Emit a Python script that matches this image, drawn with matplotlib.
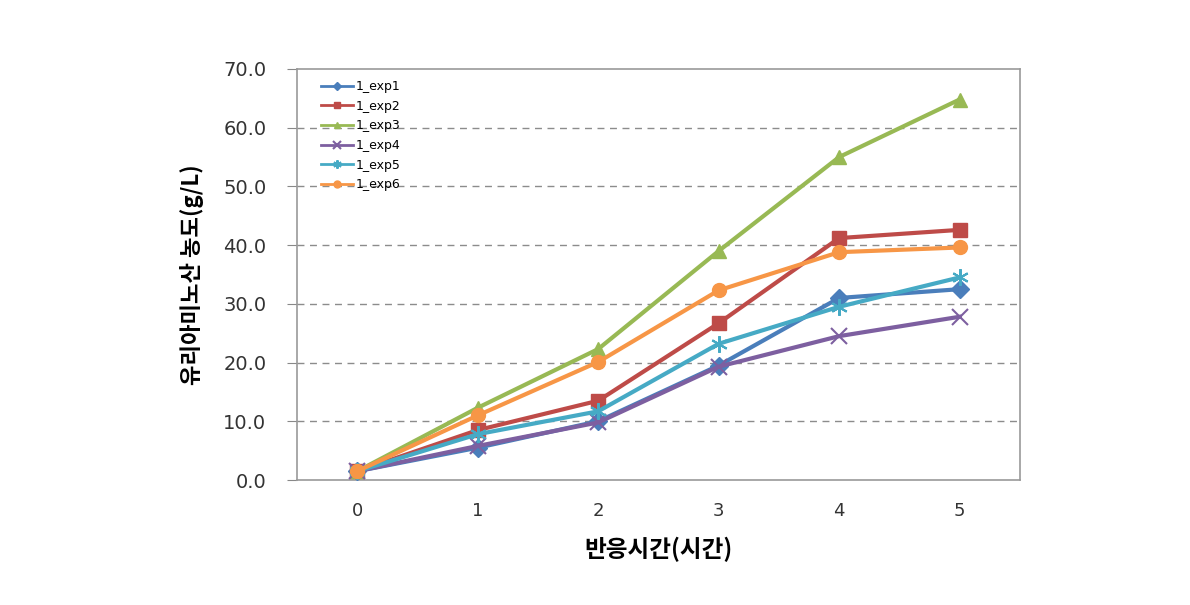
import matplotlib
matplotlib.use("Agg")
import matplotlib.pyplot as plt

plt.rcParams['font.family'] = ['Noto Sans CJK KR', 'DejaVu Sans']

hours = [0, 1, 2, 3, 4, 5]
series_names = ["1_exp1", "1_exp2", "1_exp3", "1_exp4", "1_exp5", "1_exp6"]
exp1 = [1.5, 5.5, 10.0, 19.5, 31.0, 32.5]
exp2 = [1.5, 8.5, 13.5, 26.7, 41.2, 42.6]
exp3 = [1.5, 12.3, 22.3, 39.0, 55.0, 64.8]
exp4 = [1.5, 5.8, 9.8, 19.3, 24.5, 27.8]
exp5 = [1.5, 7.8, 11.7, 23.2, 29.5, 34.5]
exp6 = [1.5, 11.0, 20.1, 32.3, 38.8, 39.6]
y_ticks = [0, 10, 20, 30, 40, 50, 60, 70]

colors = ["#4A7EBB", "#BE4B48", "#98B954", "#7D5FA0", "#46AAC5", "#F79646"]
markers = ["D", "s", "^", "x", (6, 2, 0), "o"]
msizes = [9, 10, 10, 11, 12, 10]

fig = plt.figure(figsize=(11.9, 6.05), dpi=100)
ax = fig.add_axes([0.2496, 0.2066, 0.6074, 0.6794])

all_series = [exp1, exp2, exp3, exp4, exp5, exp6]
for name, vals, c, m, ms in zip(series_names, all_series, colors, markers, msizes):
    ax.plot(hours, vals, color=c, marker=m, markersize=ms, linewidth=3,
            markeredgewidth=1.5 if m in ("x",) or isinstance(m, tuple) else 1,
            markeredgecolor=c, label=name, zorder=3)

ax.set_xlim(-0.5, 5.5)
ax.set_ylim(0, 70)
ax.set_yticks(y_ticks)
ax.set_yticklabels([f"{v:.1f}" for v in y_ticks], fontsize=14, color="#333333",
                   family="DejaVu Sans")
ax.set_xticks(hours)
ax.set_xticklabels([str(h) for h in hours], fontsize=13, color="#333333",
                   family="DejaVu Sans")
ax.tick_params(axis='x', length=0, pad=16)
ax.tick_params(axis='y', length=7, color="#888888", pad=15)

for y in y_ticks[1:-1]:
    ax.axhline(y, color="#8c8c8c", linestyle=(0, (5, 4)), linewidth=1, zorder=1)

for s in ax.spines.values():
    s.set_color("#999999")
    s.set_linewidth(1.2)

ax.set_ylabel("유리아미노산 농도(g/L)", fontsize=16, fontweight="bold", labelpad=14)
ax.set_xlabel("반응시간(시간)", fontsize=17, fontweight="bold", labelpad=12)

leg = ax.legend(loc="upper left", bbox_to_anchor=(0.017, 1.0), frameon=False,
                prop={"family": "DejaVu Sans", "size": 9},
                handlelength=2.6, labelspacing=0.53, markerscale=0.5,
                handletextpad=0.2)
for h in leg.get_lines():
    h.set_linewidth(2)

fig.savefig("out.png", dpi=100)
